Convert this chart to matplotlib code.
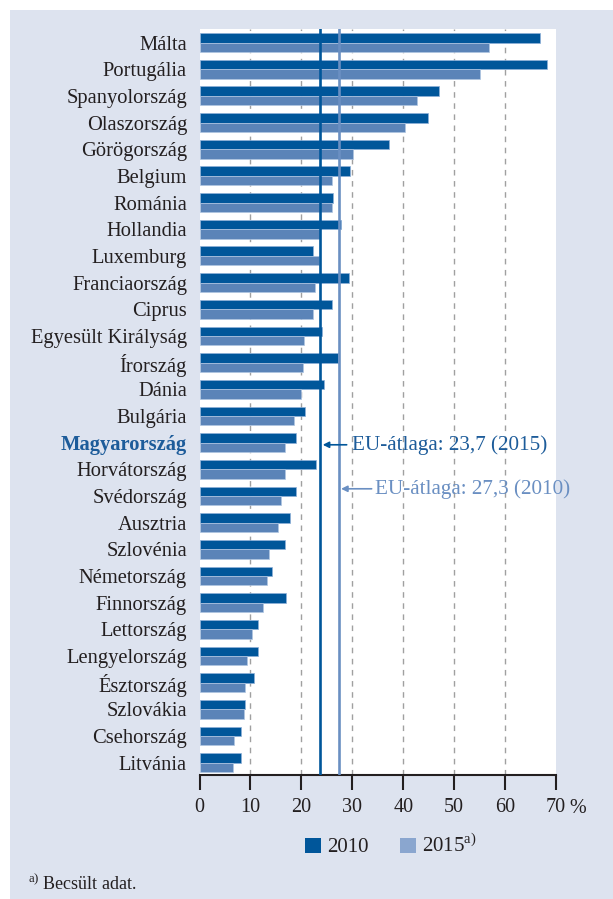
import matplotlib
matplotlib.use("Agg")
import matplotlib.pyplot as plt
from matplotlib.patches import Rectangle, Patch

plt.rcParams['font.family'] = ['Liberation Serif', 'DejaVu Serif']
plt.rcParams['mathtext.fontset'] = 'custom'
plt.rcParams['mathtext.rm'] = 'Liberation Serif'

countries = ["Málta", "Portugália", "Spanyolország", "Olaszország", "Görögország",
             "Belgium", "Románia", "Hollandia", "Luxemburg", "Franciaország",
             "Ciprus", "Egyesült Királyság", "Írország", "Dánia", "Bulgária",
             "Magyarország", "Horvátország", "Svédország", "Ausztria", "Szlovénia",
             "Németország", "Finnország", "Lettország", "Lengyelország", "Észtország",
             "Szlovákia", "Csehország", "Litvánia"]
v2010 = [66.9, 68.3, 47.1, 44.8, 37.2, 29.6, 26.2, 27.8, 22.3, 29.4,
         26.0, 24.1, 27.1, 24.4, 20.7, 18.9, 22.8, 18.9, 17.7, 16.7,
         14.2, 17.0, 11.4, 11.5, 10.7, 9.0, 8.1, 8.1]
v2015 = [56.9, 55.1, 42.7, 40.4, 30.2, 26.1, 26.0, 23.7, 23.5, 22.7,
         22.2, 20.6, 20.4, 20.0, 18.5, 16.8, 16.8, 16.0, 15.5, 13.7,
         13.2, 12.5, 10.3, 9.4, 9.0, 8.8, 6.8, 6.5]
avg2015 = 23.7
avg2010 = 27.3
xticks = [0, 10, 20, 30, 40, 50, 60, 70]
highlight = "Magyarország"

c2010 = "#00569a"
c2015 = "#5b84b8"
c2015_leg = "#8aa6cf"
cline2010 = "#6a8fc2"
ctext = "#231f20"
chl = "#1d5c9a"
panel = "#dde3ef"

W, H = 613, 899
fig = plt.figure(figsize=(W / 100, H / 100), dpi=100, facecolor="white")
fig.patches.append(Rectangle((10 / W, 0), 1 - 10 / W, 1 - 10 / H, transform=fig.transFigure,
                             facecolor=panel, edgecolor="none", zorder=-10))

left, right = 199.5 / W, 556 / W
bottom, top = 1 - 774.7 / H, 1 - 29 / H
ax = fig.add_axes([left, bottom, right - left, top - bottom])
ax.set_facecolor("white")

n = len(countries)
pos = list(range(n))
bh = 0.355
ax.barh([p - bh / 2 for p in pos], v2010, height=bh, color=c2010,
        edgecolor="#8fb0d8", linewidth=0.5, zorder=3)
ax.barh([p + bh / 2 for p in pos], v2015, height=bh, color=c2015,
        edgecolor="#b0c6e2", linewidth=0.5, zorder=3)

ax.set_ylim(n - 1 + 0.45, -0.51)
ax.set_xlim(0, 70)

for x in xticks[1:-1]:
    ax.axvline(x, color="#a0a0a0", lw=1.0, ls=(0, (4, 4)), zorder=1)

ax.axvline(avg2015, color=c2010, lw=1.9, zorder=4)
ax.axvline(avg2010, color=cline2010, lw=1.9, zorder=4)

for s in ["left", "right", "top"]:
    ax.spines[s].set_visible(False)
ax.spines["bottom"].set_linewidth(1.5)
ax.spines["bottom"].set_color(ctext)

ax.set_xticks(xticks)
ax.set_xticklabels([str(x) for x in xticks], fontsize=14.5, color=ctext)
ax.tick_params(axis="x", length=11, width=1.5, color=ctext, pad=6)
ax.text(1.037, -0.0415, "%", transform=ax.transAxes, fontsize=14.5, color=ctext,
        ha="left", va="center_baseline")

ax.set_yticks(pos)
ax.set_yticklabels(countries, fontsize=14.8, color=ctext)
ax.tick_params(axis="y", length=0, pad=9)
for lab in ax.get_yticklabels():
    if lab.get_text() == highlight:
        lab.set_color(chl)
        lab.set_fontweight("bold")

ax.annotate("", xy=(24.2, 15.08), xytext=(28.9, 15.08),
            arrowprops=dict(arrowstyle="-|>", color=c2010, lw=1.2, mutation_scale=9,
                            shrinkA=0, shrinkB=0), zorder=5, annotation_clip=False)
ax.text(29.9, 15.08, "EU-átlaga: 23,7 (2015)", fontsize=15.2, color=chl,
        ha="left", va="center", clip_on=False, zorder=5)
ax.annotate("", xy=(27.8, 16.73), xytext=(33.8, 16.73),
            arrowprops=dict(arrowstyle="-|>", color=cline2010, lw=1.2, mutation_scale=9,
                            shrinkA=0, shrinkB=0), zorder=5, annotation_clip=False)
ax.text(34.5, 16.73, "EU-átlaga: 27,3 (2010)", fontsize=15.2, color=cline2010,
        ha="left", va="center", clip_on=False, zorder=5)

handles = [Patch(facecolor=c2010, edgecolor="none"),
           Patch(facecolor=c2015_leg, edgecolor="none")]
fig.legend(handles, ["2010", "2015$^{\\mathrm{a)}}$"], loc="center",
           bbox_to_anchor=(391 / W, 1 - 846 / H), ncol=2, frameon=False,
           fontsize=15, handlelength=0.75, handleheight=0.75, handletextpad=0.3,
           columnspacing=1.5, labelcolor=ctext)

fig.text(28 / W, 1 - 890 / H, "$^{\\mathrm{a)}}$ Becsült adat.", fontsize=13,
         color=ctext, ha="left", va="baseline")

fig.savefig("out.png", dpi=100, facecolor=fig.get_facecolor())
